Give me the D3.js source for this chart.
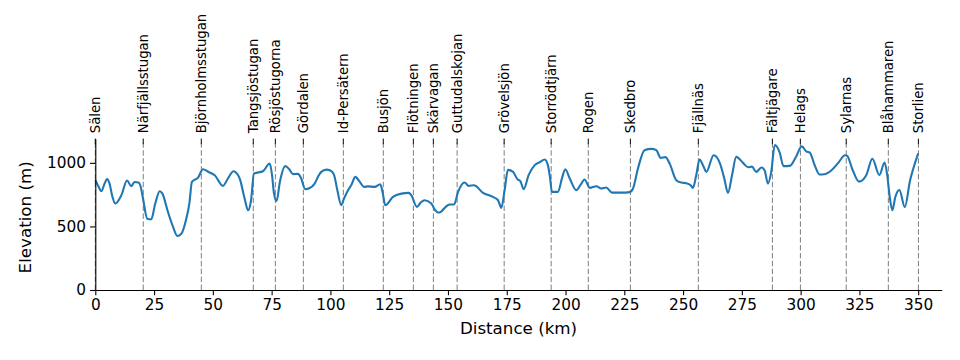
<!DOCTYPE html>
<html>
<head>
<meta charset="utf-8">
<script src="https://cdn.jsdelivr.net/npm/d3@7"></script>
<style>
  html, body { margin: 0; padding: 0; background: #fff; }
  svg { display: block; font-family: "DejaVu Sans", sans-serif; }
</style>
</head>
<body>
<svg id="chart" width="960" height="360"></svg>
<script>
const distanceKm = [
  0, 1.2, 2.6, 4.0, 5.0, 6.0, 7.2, 8.5, 11.1, 13.5, 15.3, 16.7, 18.4, 19.2, 20.3, 22.1, 23.8, 25.5, 27.4, 28.5,
  30.9, 33.0, 34.9, 36.5, 38.7, 40.0, 41.1, 43.7, 45.8, 48.0, 50.8, 54.3, 56.4, 58.8, 61.4, 63.5, 65.0, 66.2, 67.5, 71.3,
  74.2, 75.2, 76.0, 77.1, 78.5, 80.8, 82.5, 84.1, 86.2, 87.5, 89.3, 91.0, 93.3, 95.0, 96.1, 98.3, 100.0, 101.5, 103.0, 104.6,
  105.8, 107.5, 109.0, 110.6, 112.5, 114.3, 116.0, 118.8, 121.2, 122.3, 123.3, 126.6, 130.2, 133.3, 134.4, 136.8, 138.5, 140.1, 142.9, 144.5,
  145.8, 147.0, 148.3, 150.7, 152.6, 154.3, 157.1, 158.8, 161.1, 164.9, 169.1, 171.3, 172.7, 174.1, 175.5, 177.7, 179.5, 180.8, 182.2, 184.3,
  186.9, 189.3, 191.1, 192.5, 193.5, 194.2, 196.8, 198.5, 199.9, 201.8, 204.6, 206.5, 208.1, 210.3, 213.1, 215.2, 217.3, 219.8, 223.7, 227.3,
  228.7, 230.8, 233.6, 236.5, 238.6, 240.5, 242.5, 244.3, 247.1, 249.3, 251.4, 253.2, 254.2, 255.6, 257.0, 258.5, 259.9, 263.0, 265.6, 267.5,
  269.1, 270.8, 272.6, 275.5, 277.6, 279.3, 281.1, 283.3, 284.7, 286.1, 287.5, 289.0, 291.1, 292.7, 295.4, 297.8, 300.5, 302.4, 303.9, 306.0,
  308.1, 310.0, 313.0, 316.0, 318.9, 319.8, 322.0, 324.8, 327.9, 330.5, 333.5, 335.7, 336.8, 337.9, 339.0, 340.3, 342.0, 344.3, 346.5, 348.5,
  350.0
];
const elevationM = [
  864, 820, 777, 840, 872, 840, 740, 680, 746, 861, 816, 850, 845, 820, 719, 561, 556, 680, 777, 760,
  614, 500, 425, 440, 561, 680, 850, 884, 950, 930, 903, 819, 877, 934, 877, 720, 627, 700, 916, 934,
  995, 900, 760, 700, 850, 974, 950, 911, 913, 880, 793, 800, 837, 900, 929, 947, 940, 908, 780, 667,
  720, 785, 830, 890, 850, 811, 815, 811, 832, 760, 667, 732, 758, 764, 746, 654, 690, 706, 680, 630,
  609, 615, 640, 672, 672, 772, 845, 819, 824, 764, 732, 706, 646, 785, 945, 929, 872, 856, 793, 903,
  982, 1008, 1026, 982, 870, 772, 772, 880, 950, 877, 785, 830, 869, 803, 816, 798, 806, 766, 766, 770,
  798, 955, 1100, 1110, 1100, 1039, 1045, 994, 864, 845, 840, 824, 803, 903, 1026, 980, 929, 1060, 1000, 880,
  764, 900, 1047, 1000, 966, 970, 929, 963, 940, 837, 929, 1140, 1080, 974, 976, 1039, 1130, 1090, 1081, 980,
  908, 910, 940, 1000, 1060, 1055, 950, 852, 903, 1032, 904, 1003, 908, 732, 628, 733, 786, 652, 858, 990,
  1075
];
const stationNames = [
  "Sälen", "Närfjällsstugan", "Björnholmsstugan", "Tangsjöstugan", "Rösjöstugorna", "Gördalen", "Id-Persätern",
  "Busjön", "Flötningen", "Skärvagan", "Guttudalskojan", "Grövelsjön", "Storrödtjärn", "Rogen", "Skedbro",
  "Fjällnäs", "Fältjägare", "Helags", "Sylarnas", "Blåhammaren", "Storlien"
];
const stationKm = [
  0, 20.4, 45.1, 67.2, 76.6, 88.5, 105.5, 122.5, 135.3, 143.8, 153.9, 173.9, 193.9, 209.7, 227.6,
  256.5, 288.0, 299.9, 319.4, 337.3, 350.1
];
const xTicks = [0, 25, 50, 75, 100, 125, 150, 175, 200, 225, 250, 275, 300, 325, 350];
const yTicks = [0, 500, 1000];

const svg = d3.select("#chart");
const mLeft = 95.3, mRight = 941.7, mTop = 138.7, mBottom = 290;

const x = d3.scaleLinear().domain([0, 360]).range([mLeft, mRight]);
const y = d3.scaleLinear().domain([0, 1190]).range([mBottom, mTop]);

// station dashed lines
svg.append("g").selectAll("line").data(stationKm).join("line")
  .attr("x1", d => x(d)).attr("x2", d => x(d))
  .attr("y1", y(0)).attr("y2", mTop)
  .attr("stroke", "#7f7f7f").attr("stroke-width", 1)
  .attr("stroke-dasharray", "5.5,2.4");

// station tick marks
svg.append("g").selectAll("line").data(stationKm).join("line")
  .attr("x1", d => x(d)).attr("x2", d => x(d))
  .attr("y1", mTop).attr("y2", mTop + 5.5)
  .attr("stroke", "#222").attr("stroke-width", 1.1);

// station labels
svg.append("g").selectAll("text").data(stationNames).join("text")
  .attr("transform", (d, i) => `translate(${x(stationKm[i])},${mTop - 5.5}) rotate(-90)`)
  .attr("dy", "0.35em")
  .attr("text-anchor", "start")
  .attr("font-size", "13.2px")
  .attr("fill", "#000")
  .text(d => d);

// elevation line
const data = distanceKm.map((d, i) => [d, elevationM[i]]);
svg.append("path")
  .datum(data)
  .attr("fill", "none")
  .attr("stroke", "#1f77b4")
  .attr("stroke-width", 2.1)
  .attr("stroke-linejoin", "round")
  .attr("d", d3.line().x(d => x(d[0])).y(d => y(d[1])).curve(d3.curveMonotoneX));

// axes
const xAxis = svg.append("g").attr("transform", `translate(0,${mBottom})`)
  .call(d3.axisBottom(x).tickValues(xTicks).tickFormat(d3.format("d")).tickSize(5.25).tickPadding(4).tickSizeOuter(0));
const yAxis = svg.append("g").attr("transform", `translate(${mLeft},0)`)
  .call(d3.axisLeft(y).tickValues(yTicks).tickFormat(d3.format("d")).tickSize(5.25).tickPadding(4).tickSizeOuter(0));
[xAxis, yAxis].forEach(g => {
  g.selectAll("text").attr("font-size", "15.3px").attr("font-family", "DejaVu Sans, sans-serif").attr("fill", "#000");
  g.selectAll("line").attr("stroke", "#000").attr("stroke-width", 1.1);
  g.select(".domain").attr("stroke", "#000").attr("stroke-width", 1.1);
});

svg.append("text")
  .attr("x", (mLeft + mRight) / 2).attr("y", 334)
  .attr("text-anchor", "middle").attr("font-size", "16.7px").attr("fill", "#000")
  .text("Distance (km)");
svg.append("text")
  .attr("transform", `translate(31,${(mTop + mBottom) / 2 + 3}) rotate(-90)`)
  .attr("text-anchor", "middle").attr("font-size", "16.7px").attr("fill", "#000")
  .text("Elevation (m)");
</script>
</body>
</html>
